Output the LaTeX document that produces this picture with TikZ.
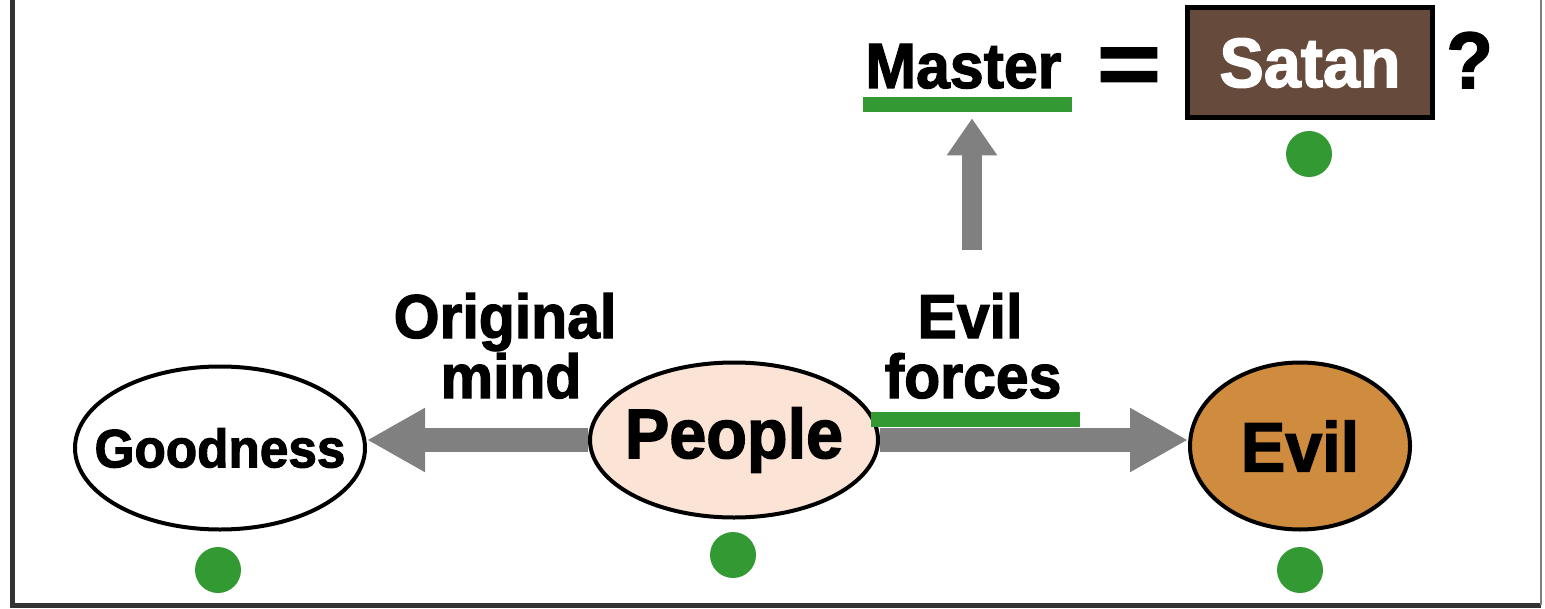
\documentclass[tikz,border=0pt]{standalone}
\usepackage{fontspec}
\setmainfont{Liberation Sans}[BoldFeatures={FakeBold=2,FakeStretch=0.95}]
\usetikzlibrary{arrows.meta,shapes.geometric}
\definecolor{grn}{RGB}{51,153,51}
\definecolor{arrowgray}{RGB}{128,128,128}
\definecolor{peach}{RGB}{251,228,214}
\definecolor{ochre}{RGB}{208,140,62}
\definecolor{satanbrown}{RGB}{102,74,60}
\begin{document}
\begin{tikzpicture}[x=0.5pt,y=-0.5pt,
  lbl/.style={font=\bfseries\fontsize{31}{31}\selectfont, inner sep=0, anchor=base},
  oval/.style={ellipse, draw=black, line width=2pt, inner sep=0},
  ovaltext/.style={inner sep=0},
  dot/.style={circle, fill=grn, minimum size=23pt, inner sep=0},
  bigarrow/.style={draw=arrowgray, line width=12pt, -{Triangle[length=29pt,width=30pt]}},
  vertarrow/.style={draw=arrowgray, line width=10pt, -{Triangle[length=18.5pt,width=24pt]}},
  uline/.style={fill=grn, inner sep=0, minimum width=104.5pt, minimum height=7.5pt},
]
\useasboundingbox (0,0) rectangle (1545,609);
\draw[line width=2.5pt, draw=black!80] (12,0) -- (12,605) -- (1541,605);
\draw[line width=0.8pt, draw=black!50] (1541,605) -- (1541,0);

% ovals
\node[oval, minimum width=145pt, minimum height=81.5pt] (good) at (220,448) {};
\node[oval, fill=peach, minimum width=144pt, minimum height=77.5pt] (people) at (734,440) {};
\node[oval, fill=ochre, minimum width=110pt, minimum height=83.5pt] (evil) at (1300,446) {};
\node[ovaltext, font=\bfseries\fontsize{27}{27}\selectfont] (goodtxt) at (good) {Goodness};
\node[ovaltext, font=\bfseries\fontsize{35}{35}\selectfont] (peopletxt) at (people) {People};
\node[ovaltext, font=\bfseries\fontsize{35}{35}\selectfont] (eviltxt) at (evil) {Evil};

% horizontal arrows
\draw[bigarrow] (people.west) -- (people.west -| good.east);
\draw[bigarrow] (people.east) -- (people.east -| evil.west);

% labels
\node[lbl] (orig) at (505,338) {Original};
\node[lbl] (mind) at (511,398) {mind};
\node[lbl] (evillbl) at (970,338) {Evil};
\node[lbl] (forces) at (973,398) {forces};
\node[uline] (fline) at (975,419.5) {};

% top row
\node[inner sep=0, anchor=base west, font=\bfseries\fontsize{32}{32}\selectfont] (master) at (865,88) {Master};
\node[uline] (mline) at (967,104.5) {};
\node[inner sep=0, font=\bfseries\fontsize{44}{44}\selectfont] (eq) at (1129,71) {\scalebox{1.3}[1]{=}};
\node[draw=black, line width=2.5pt, fill=satanbrown, minimum width=122.5pt, minimum height=55pt, inner sep=0, text=white, font=\bfseries\fontsize{35}{35}\selectfont] (satan) at (1310,63) {Satan};
\node[inner sep=0, anchor=base west, font=\bfseries\fontsize{40}{40}\selectfont] (q) at (1446,88) {?};

% vertical arrow
\coordinate (vstart) at (972,250);
\draw[vertarrow, shorten >=3pt] (vstart) -- (vstart |- mline.south);

% dots
\node[dot] (dgood) at (218,570) {};
\node[dot] (dpeople) at (733,555) {};
\node[dot] (devil) at (1300,570) {};
\node[dot] (dsatan) at (1309,154) {};
\end{tikzpicture}
\end{document}
